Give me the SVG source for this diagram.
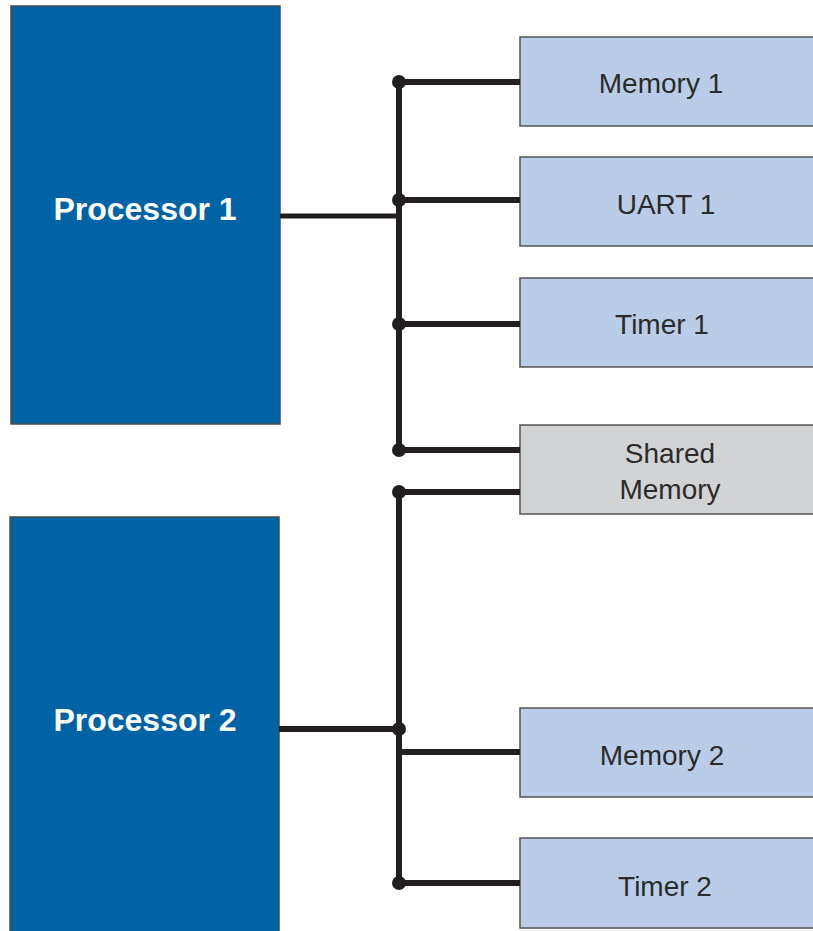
<svg xmlns="http://www.w3.org/2000/svg" width="813" height="931" viewBox="0 0 813 931">
  <style>
    .cpu { fill: #0063a5; stroke: #4a4a4a; stroke-width: 1.5; }
    .per { fill: #b9cde9; stroke: #555; stroke-width: 1.5; }
    .shm { fill: #d2d3d5; stroke: #555; stroke-width: 1.5; }
    .cpu-label { font-family: "Liberation Sans", Arial, sans-serif; font-weight: bold; font-size: 32px; fill: #fff; text-anchor: middle; }
    .label { font-family: "Liberation Sans", Arial, sans-serif; font-size: 28px; fill: #2b2b2b; text-anchor: middle; }
    .bus { stroke: #231f20; stroke-width: 6; fill: none; stroke-linecap: butt; }
    .dot { fill: #231f20; }
  </style>
  <rect width="813" height="931" fill="#fff"/>

  <g id="processor1">
    <rect class="cpu" x="11" y="6" width="269" height="418"/>
    <text class="cpu-label" x="145" y="220">Processor 1</text>
  </g>
  <g id="processor2">
    <rect class="cpu" x="10" y="517" width="269" height="420"/>
    <text class="cpu-label" x="145" y="731">Processor 2</text>
  </g>

  <g id="memory1">
    <rect class="per" x="520" y="37" width="300" height="89"/>
    <text class="label" x="661" y="93">Memory 1</text>
  </g>
  <g id="uart1">
    <rect class="per" x="520" y="157" width="300" height="89"/>
    <text class="label" x="666" y="214">UART 1</text>
  </g>
  <g id="timer1">
    <rect class="per" x="520" y="278" width="300" height="89"/>
    <text class="label" x="662" y="334">Timer 1</text>
  </g>
  <g id="shared-memory">
    <rect class="shm" x="520" y="425" width="300" height="89"/>
    <text class="label" x="670" y="463">Shared</text>
    <text class="label" x="670" y="499">Memory</text>
  </g>
  <g id="memory2">
    <rect class="per" x="520" y="708" width="300" height="89"/>
    <text class="label" x="662" y="765">Memory 2</text>
  </g>
  <g id="timer2">
    <rect class="per" x="520" y="838" width="300" height="90"/>
    <text class="label" x="665" y="896">Timer 2</text>
  </g>

  <g id="connectors">
    <!-- bus of processor 1 -->
    <path class="bus" d="M399 82 V450"/>
    <path class="bus" d="M399 82 H520 M399 200 H520 M399 324 H520 M399 450 H520"/>
    <path class="bus" d="M280 216 H399" style="stroke-width:5"/>
    <circle class="dot" cx="399" cy="82" r="7"/>
    <circle class="dot" cx="399" cy="200" r="7"/>
    <circle class="dot" cx="399" cy="324" r="7"/>
    <circle class="dot" cx="399" cy="450" r="7"/>
    <!-- bus of processor 2 -->
    <path class="bus" d="M399 492 V883"/>
    <path class="bus" d="M399 492 H520 M399 752 H520 M399 883 H520"/>
    <path class="bus" d="M279 729 H399"/>
    <circle class="dot" cx="399" cy="492" r="7"/>
    <circle class="dot" cx="399" cy="729" r="7"/>
    <circle class="dot" cx="399" cy="883" r="7"/>
  </g>
</svg>
